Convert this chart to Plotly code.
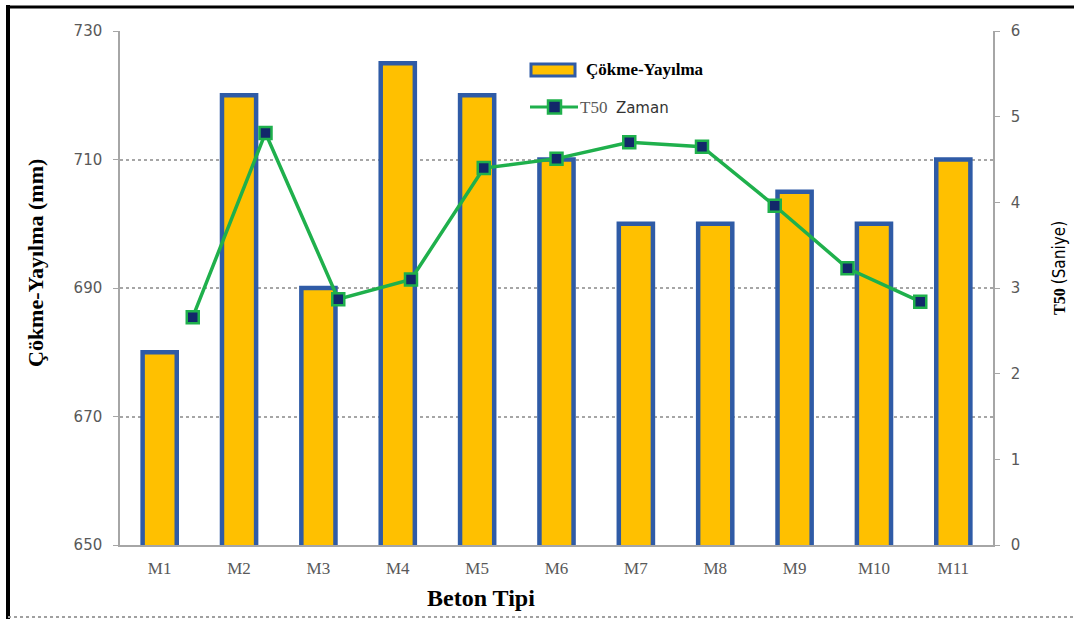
import plotly.graph_objects as go

# Concrete mix types
categories = ["M1", "M2", "M3", "M4", "M5", "M6", "M7", "M8", "M9", "M10", "M11"]
# Slump-flow diameter (mm)
slump_flow = [680, 720, 690, 725, 720, 710, 700, 700, 705, 700, 710]
# T50 time (s)
t50_time = [2.66, 4.81, 2.87, 3.10, 4.40, 4.51, 4.70, 4.65, 3.96, 3.23, 2.84]

left_ticks = [650, 670, 690, 710, 730]
right_ticks = [0, 1, 2, 3, 4, 5, 6]

SERIF = "Liberation Serif, Times New Roman, serif"
SANS = "DejaVu Sans, Verdana, sans-serif"
GRID = "#a6a6a6"
TICK_COLOR = "#595959"
BAR_FILL = "#FFC000"
BAR_EDGE = "#2F5BA6"
LINE_GREEN = "#1FB04C"
MARKER_NAVY = "#12286A"

# plot area in pixels (used to place the hand-drawn legend, titles and frame)
L, R, T, B = 120, 993, 31, 545


def px(x):
    return (x - L) / (R - L)


def py(y):
    return (B - y) / (B - T)


fig = go.Figure()

fig.add_trace(go.Bar(
    x=categories, y=slump_flow,
    name="Çökme-Yayılma",
    marker=dict(color=BAR_FILL, line=dict(color=BAR_EDGE, width=4.5)),
    width=0.43,
    xaxis="x", yaxis="y",
))

fig.add_trace(go.Scatter(
    x=categories, y=t50_time,
    name="T50 Zaman",
    mode="lines+markers",
    line=dict(color=LINE_GREEN, width=3.5),
    marker=dict(symbol="square", size=12, color=MARKER_NAVY,
                line=dict(color=LINE_GREEN, width=2.5)),
    xaxis="x2", yaxis="y2",
))

shapes = [
    # outer frame: black left and top edges, grey dotted bottom edge
    dict(type="line", xref="paper", yref="paper",
         x0=px(8), x1=px(8), y0=py(5), y1=py(619),
         line=dict(color="black", width=4)),
    dict(type="line", xref="paper", yref="paper",
         x0=px(6), x1=px(1074), y0=py(7), y1=py(7),
         line=dict(color="black", width=3)),
    dict(type="line", xref="paper", yref="paper",
         x0=px(8), x1=px(1074), y0=py(617), y1=py(617),
         line=dict(color="#a0a0a0", width=2, dash="dot")),
    # legend: bar swatch
    dict(type="rect", xref="paper", yref="paper",
         x0=px(531), x1=px(575), y0=py(64), y1=py(76),
         fillcolor=BAR_FILL, line=dict(color=BAR_EDGE, width=3)),
    # legend: line sample with square marker
    dict(type="line", xref="paper", yref="paper",
         x0=px(530), x1=px(578), y0=py(107), y1=py(107),
         line=dict(color=LINE_GREEN, width=3)),
    dict(type="rect", xref="paper", yref="paper",
         x0=px(548), x1=px(561), y0=py(100.5), y1=py(113.5),
         fillcolor=MARKER_NAVY, line=dict(color=LINE_GREEN, width=2.5)),
]

annotations = [
    # axis titles
    dict(text="<b>Beton Tipi</b>", x=px(481), y=py(598),
         xref="paper", yref="paper", xanchor="center", yanchor="middle",
         showarrow=False,
         font=dict(family=SERIF, size=24, color="black")),
    dict(text="<b>Çökme-Yayılma (mm)</b>", x=px(35), y=py(263),
         xref="paper", yref="paper", xanchor="center", yanchor="middle",
         textangle=-90, showarrow=False,
         font=dict(family=SERIF, size=22, color="black")),
    dict(text='<b>T50</b> <span style="font-family:DejaVu Sans Condensed, DejaVu Sans, sans-serif;'
              'font-size:17px">(Saniye)</span>',
         x=px(1059), y=py(268),
         xref="paper", yref="paper", xanchor="center", yanchor="middle",
         textangle=-90, showarrow=False,
         font=dict(family=SERIF, size=16, color="black")),
    # legend texts
    dict(text="<b>Çökme-Yayılma</b>", x=px(584), y=py(70),
         xref="paper", yref="paper", xanchor="left", yanchor="middle",
         showarrow=False,
         font=dict(family=SERIF, size=17, color="black")),
    dict(text='<span style="color:#595959">T50</span>  '
              '<span style="font-family:DejaVu Sans, Verdana, sans-serif;font-size:15px">Zaman</span>',
         x=px(578), y=py(107),
         xref="paper", yref="paper", xanchor="left", yanchor="middle",
         showarrow=False,
         font=dict(family=SERIF, size=17, color="#333333")),
]

fig.update_layout(
    width=1074, height=623,
    margin=dict(l=L, r=1074 - R, t=T, b=623 - B),
    paper_bgcolor="white",
    plot_bgcolor="white",
    showlegend=False,
    xaxis=dict(
        type="category",
        range=[-0.5, 10.5],
        showgrid=False,
        showline=True, linecolor=GRID, linewidth=1.5,
        ticks="",
        tickfont=dict(family=SERIF, size=17, color=TICK_COLOR),
        ticklabelstandoff=7,
    ),
    xaxis2=dict(
        type="category",
        overlaying="x",
        range=[-1, 11],
        visible=False,
    ),
    yaxis=dict(
        range=[650, 730],
        tickvals=left_ticks,
        showgrid=True, gridcolor=GRID, gridwidth=1.5, griddash="dot",
        showline=True, linecolor=GRID, linewidth=1.5,
        ticks="outside", ticklen=5, tickcolor=GRID,
        tickfont=dict(family=SANS, size=15, color=TICK_COLOR),
        ticklabelstandoff=8,
        zeroline=False,
    ),
    yaxis2=dict(
        overlaying="y", side="right",
        range=[0, 6],
        tickvals=right_ticks,
        showgrid=False,
        showline=True, linecolor=GRID, linewidth=1.5,
        ticks="outside", ticklen=5, tickcolor=GRID,
        tickfont=dict(family=SANS, size=15, color=TICK_COLOR),
        ticklabelstandoff=8,
        zeroline=False,
    ),
    annotations=annotations,
    shapes=shapes,
)

fig.write_html("out.html")
